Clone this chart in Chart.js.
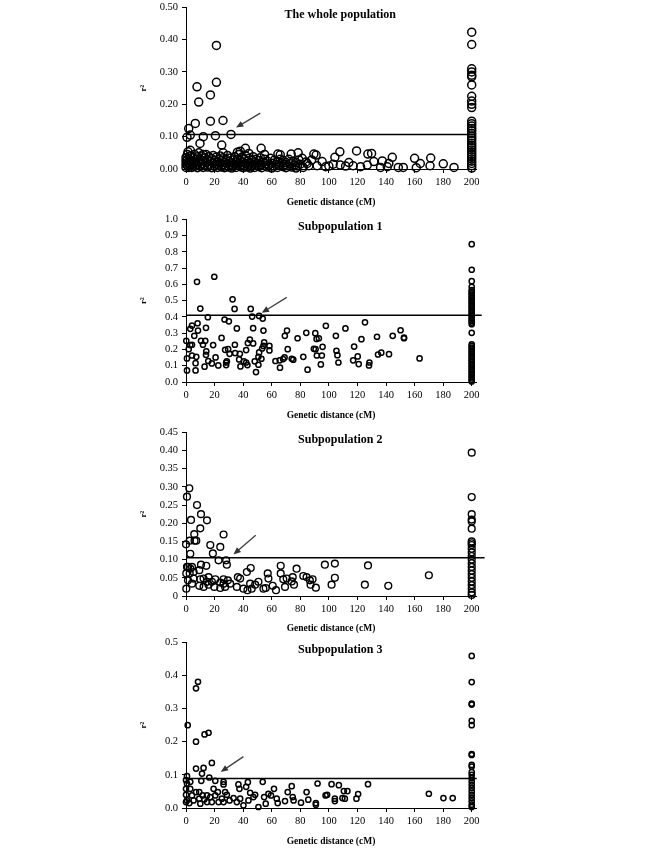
<!DOCTYPE html>
<html>
<head>
<meta charset="utf-8">
<script src="https://cdn.jsdelivr.net/npm/chart.js@4.4.1/dist/chart.umd.min.js"></script>
<style>
  body { margin: 0; background: #fff; }
  canvas { position: absolute; left: 0; }
</style>
</head>
<body>
<canvas id="whole" width="649" height="211" style="top:-3px"></canvas>
<canvas id="sub1" width="649" height="212" style="top:209px"></canvas>
<canvas id="sub2" width="649" height="212" style="top:422px"></canvas>
<canvas id="sub3" width="649" height="215" style="top:632px"></canvas>
<script>
// distance ticks shared by every panel
const xTicks = [0, 20, 40, 60, 80, 100, 120, 140, 160, 180, 200];
const xLabels = ["0", "20", "40", "60", "80", "100", "120", "140", "160", "180", "200"];
const unlinkedX = 200;

// ---- the whole population ----
const wholeTitle = "The whole population";
const wholeYTicks = [0, 0.1, 0.2, 0.3, 0.4, 0.5];
const wholeYLabels = ["0.00", "0.10", "0.20", "0.30", "0.40", "0.50"];
const wholeThreshold = 0.107;
const wholeArrow = [[52, 0.173], [35, 0.128]];
const wholePoints = [
  [21.3, 0.382], [7.7, 0.254], [21.3, 0.268], [17.1, 0.229], [8.9, 0.207],
  [6.5, 0.141], [17.1, 0.148], [25.9, 0.15], [1.9, 0.125], [3, 0.105],
  [0.7, 0.098], [12.1, 0.1], [20.6, 0.103], [31.5, 0.107], [9.8, 0.079],
  [25, 0.074], [1.4, 0.053], [3, 0.058], [41.6, 0.064], [52.6, 0.064],
  [64.3, 0.046], [73.6, 0.046], [78.5, 0.05], [89.5, 0.046], [91.1, 0.043],
  [107.7, 0.053], [104.2, 0.036], [119.4, 0.056], [127.3, 0.046], [129.9, 0.048],
  [137.4, 0.025], [144.4, 0.036], [160, 0.033], [171.3, 0.034], [180.1, 0.016],
  [187.6, 0.005], [170.8, 0.01], [152.1, 0.005], [148.6, 0.005], [136.2, 0.005],
  [164, 0.017], [161.2, 0.004], [126.9, 0.012], [122.2, 0.007], [108, 0.012],
  [97.7, 0.007], [91.8, 0.01], [84.8, 0.017], [81.3, 0.033], [142, 0.017],
  [140.9, 0.007], [131.5, 0.023], [117, 0.01], [111.7, 0.009], [114, 0.02],
  [103, 0.015], [100, 0.009], [95.3, 0.023], [36, 0.052], [38, 0.055],
  [26, 0.05], [44, 0.048], [55, 0.045], [66, 0.044], [12, 0.045],
  [0, 0.005], [0, 0.015], [0, 0.025], [0, 0.035], [1, 0.01], [1, 0.02], [1, 0.03], [1, 0.045],
  [2, 0.005], [2, 0.018], [3, 0.012], [3, 0.028], [3, 0.04], [4, 0.005], [4, 0.022],
  [5, 0.015], [5, 0.035], [6, 0.008], [6, 0.025], [6, 0.045], [7, 0.018], [7, 0.03],
  [8, 0.004], [8, 0.012], [8, 0.038], [9, 0.022], [9, 0.05], [10, 0.008], [10, 0.03],
  [11, 0.016], [11, 0.04], [12, 0.005], [12, 0.025], [13, 0.012], [13, 0.034],
  [14, 0.02], [14, 0.045], [15, 0.006], [15, 0.028], [16, 0.015], [16, 0.038],
  [17, 0.01], [17, 0.024], [18, 0.004], [18, 0.032], [19, 0.018], [19, 0.042],
  [20, 0.008], [20, 0.026], [21, 0.015], [21, 0.036], [22, 0.005], [22, 0.022],
  [23, 0.012], [23, 0.03], [24, 0.018], [24, 0.04], [25, 0.006], [25, 0.027],
  [26, 0.014], [26, 0.035], [27, 0.004], [27, 0.02], [28, 0.01], [28, 0.03],
  [29, 0.016], [29, 0.042], [30, 0.006], [30, 0.024], [31, 0.012], [31, 0.034],
  [32, 0.003], [32, 0.02], [33, 0.009], [33, 0.028], [34, 0.015], [34, 0.038],
  [35, 0.005], [35, 0.022], [36, 0.012], [36, 0.03], [37, 0.018], [37, 0.045],
  [38, 0.007], [38, 0.026], [39, 0.014], [39, 0.036], [40, 0.004], [40, 0.02],
  [41, 0.01], [41, 0.03], [42, 0.016], [42, 0.04], [43, 0.006], [43, 0.024],
  [44, 0.012], [44, 0.033], [45, 0.003], [45, 0.018], [46, 0.009], [46, 0.028],
  [47, 0.015], [47, 0.038], [48, 0.005], [48, 0.022], [49, 0.012], [49, 0.03],
  [50, 0.018], [51, 0.007], [51, 0.026], [52, 0.014], [52, 0.035], [53, 0.004],
  [54, 0.02], [55, 0.01], [55, 0.03], [56, 0.016], [57, 0.006], [57, 0.024],
  [58, 0.012], [59, 0.033], [60, 0.003], [60, 0.018], [61, 0.009], [62, 0.028],
  [63, 0.015], [64, 0.005], [64, 0.022], [65, 0.012], [66, 0.03], [67, 0.018],
  [68, 0.007], [68, 0.026], [69, 0.014], [70, 0.004], [70, 0.02], [71, 0.01],
  [72, 0.03], [73, 0.016], [74, 0.006], [75, 0.024], [76, 0.012], [77, 0.003],
  [77, 0.02], [78, 0.009], [79, 0.028], [80, 0.015], [82, 0.005], [84, 0.022],
  [86, 0.01], [88, 0.028]
];
const wholeAt200 = [0.423, 0.385, 0.31, 0.3, 0.29, 0.285, 0.26, 0.225, 0.21, 0.2, 0.19,
  0.148, 0.14, 0.133, 0.125, 0.118, 0.11, 0.102, 0.095, 0.088, 0.08, 0.073, 0.066,
  0.059, 0.052, 0.045, 0.038, 0.031, 0.024, 0.017, 0.01, 0.003];

// ---- subpopulation 1 ----
const sub1Title = "Subpopulation 1";
const sub1YTicks = [0, 0.1, 0.2, 0.3, 0.4, 0.5, 0.6, 0.7, 0.8, 0.9, 1.0];
const sub1YLabels = ["0.0", "0.1", "0.2", "0.3", "0.4", "0.5", "0.6", "0.7", "0.8", "0.9", "1.0"];
const sub1Threshold = 0.41;
const sub1Arrow = [[70.5, 0.52], [53, 0.425]];
const sub1Points = [
  [0.7, 0.071], [0.7, 0.145], [0.2, 0.253], [7.7, 0.616], [19.8, 0.647], [32.6, 0.508],
  [34, 0.449], [10, 0.451], [45.3, 0.449], [15.3, 0.398], [46.3, 0.402], [51.2, 0.406],
  [53.7, 0.39], [27, 0.384], [30, 0.373], [8.1, 0.361], [4.2, 0.347], [3, 0.327],
  [14, 0.333], [35.6, 0.329], [47, 0.331], [8.4, 0.316], [54.2, 0.316], [5.8, 0.284],
  [24.9, 0.271], [10.5, 0.253], [13.5, 0.253], [44.7, 0.261], [43.3, 0.239], [47, 0.237],
  [54.7, 0.243], [3, 0.227], [4.2, 0.229], [11.9, 0.229], [19, 0.227], [34.2, 0.229],
  [54.2, 0.222], [58.4, 0.222], [1.9, 0.202], [29.5, 0.202], [27.4, 0.198], [14.2, 0.188],
  [42.1, 0.196], [53.3, 0.206], [58.4, 0.194], [51.2, 0.182], [30.5, 0.173], [34.4, 0.178],
  [37.7, 0.173], [50.7, 0.155], [14, 0.167], [4.2, 0.163], [7.2, 0.155], [20.7, 0.151],
  [52.8, 0.143], [37.2, 0.139], [15.6, 0.129], [28.6, 0.127], [40.5, 0.127], [42.1, 0.12],
  [6.7, 0.116], [18.1, 0.114], [22.6, 0.102], [28.1, 0.104], [43, 0.104], [38.1, 0.096],
  [13, 0.094], [28.1, 0.12], [6.7, 0.071], [49, 0.061], [50.7, 0.106], [48.1, 0.127],
  [65.8, 0.088], [85.1, 0.076], [65.6, 0.133], [62.6, 0.129], [71.2, 0.202], [69, 0.151],
  [68, 0.141], [69.2, 0.284], [70.7, 0.316], [78.1, 0.269], [84.2, 0.302], [74, 0.143],
  [75.1, 0.137], [82.1, 0.155], [90.5, 0.3], [91.4, 0.265], [93, 0.269], [90.7, 0.202],
  [89.5, 0.204], [91.6, 0.163], [95.6, 0.216], [95.1, 0.163], [94.4, 0.108], [97.9, 0.345],
  [104.9, 0.284], [105.3, 0.192], [106, 0.165], [106.7, 0.12], [111.6, 0.329], [117.7, 0.218],
  [120.2, 0.157], [120.9, 0.11], [122.8, 0.263], [117, 0.133], [125.3, 0.367], [133.7, 0.278],
  [134.4, 0.169], [136.7, 0.18], [128.4, 0.12], [128.1, 0.102], [142.1, 0.171], [144.7, 0.284],
  [150.2, 0.318], [152.6, 0.273], [152.6, 0.269], [163.5, 0.145]
];
const sub1At200 = [0.847, 0.69, 0.62, 0.585, 0.565, 0.555, 0.545, 0.535, 0.525, 0.515,
  0.505, 0.495, 0.485, 0.475, 0.465, 0.455, 0.445, 0.435, 0.425, 0.415, 0.405, 0.395,
  0.385, 0.375, 0.365, 0.355, 0.302, 0.232, 0.222, 0.212, 0.202, 0.192, 0.182, 0.172,
  0.162, 0.152, 0.142, 0.132, 0.122, 0.112, 0.102, 0.092, 0.082, 0.072, 0.062, 0.052,
  0.042, 0.032, 0.022, 0.012, 0.003];

// ---- subpopulation 2 ----
const sub2Title = "Subpopulation 2";
const sub2YTicks = [0, 0.05, 0.1, 0.15, 0.2, 0.25, 0.3, 0.35, 0.4, 0.45];
const sub2YLabels = ["0", "0.05", "0.10", "0.15", "0.20", "0.25", "0.30", "0.35", "0.40", "0.45"];
const sub2Threshold = 0.105;
const sub2Arrow = [[48.8, 0.167], [33.2, 0.114]];
const sub2Points = [
  [2.3, 0.296], [0.7, 0.273], [3.5, 0.209], [7.7, 0.25], [10.5, 0.225], [14.7, 0.208],
  [10, 0.186], [5.8, 0.17], [6, 0.152], [2.6, 0.152], [7.2, 0.152], [0, 0.142],
  [26.3, 0.169], [17, 0.14], [24, 0.135], [18.8, 0.117], [3, 0.116], [22.8, 0.098],
  [28.1, 0.098], [28.6, 0.086], [10.5, 0.086], [0.7, 0.08], [3, 0.075], [9.3, 0.071],
  [14.2, 0.083], [0.2, 0.062], [1.4, 0.043], [0.2, 0.02], [4.2, 0.034], [5.3, 0.048],
  [10, 0.046], [12.3, 0.048], [15.8, 0.052], [18.1, 0.039], [20.5, 0.046], [24, 0.037],
  [26.3, 0.046], [29.3, 0.043], [30.9, 0.034], [9.3, 0.028], [15.8, 0.031], [36.3, 0.052],
  [35.6, 0.025], [40.2, 0.02], [42.6, 0.066], [45.3, 0.077], [43, 0.016], [44.9, 0.034],
  [46, 0.02], [48.4, 0.031], [50.7, 0.039], [54.2, 0.02], [55.8, 0.022], [57.2, 0.062],
  [57.7, 0.048], [60.7, 0.028], [63, 0.016], [66.3, 0.083], [66.3, 0.062], [68.1, 0.046],
  [69.3, 0.025], [70.5, 0.048], [74, 0.04], [74.7, 0.052], [75.6, 0.031], [77.4, 0.075],
  [82.1, 0.055], [84.4, 0.052], [86.7, 0.043], [87.2, 0.031], [88.6, 0.046], [90.9, 0.023],
  [97.2, 0.086], [104.2, 0.089], [104.2, 0.05], [101.9, 0.031], [127.4, 0.084], [125.2, 0.031],
  [141.6, 0.028], [170, 0.057], [26.3, 0.034], [2.6, 0.062], [5.3, 0.066], [4.2, 0.08],
  [14.7, 0.039], [12.3, 0.025], [19.8, 0.025], [24, 0.022], [27.4, 0.025], [1.4, 0.08],
  [37.9, 0.048]
];
const sub2At200 = [0.394, 0.272, 0.225, 0.21, 0.205, 0.185, 0.15, 0.145, 0.14, 0.13,
  0.12, 0.11, 0.1, 0.09, 0.08, 0.07, 0.06, 0.05, 0.04, 0.03, 0.02, 0.01, 0.003];

// ---- subpopulation 3 ----
const sub3Title = "Subpopulation 3";
const sub3YTicks = [0, 0.1, 0.2, 0.3, 0.4, 0.5];
const sub3YLabels = ["0.0", "0.1", "0.2", "0.3", "0.4", "0.5"];
const sub3Threshold = 0.089;
const sub3Arrow = [[40.2, 0.155], [24.3, 0.109]];
const sub3Points = [
  [7, 0.361], [8.4, 0.381], [1.2, 0.25], [7, 0.2], [13, 0.222], [15.8, 0.227],
  [18.1, 0.136], [7, 0.119], [12.3, 0.121], [11.2, 0.104], [16.3, 0.092], [20.5, 0.082],
  [10.7, 0.082], [0.7, 0.096], [0, 0.084], [3, 0.079], [0.7, 0.074], [3, 0.058],
  [0, 0.04], [0.7, 0.023], [2.3, 0.015], [5.3, 0.023], [7, 0.048], [9.3, 0.048],
  [9.3, 0.028], [11.6, 0.038], [12.8, 0.026], [14.7, 0.038], [17, 0.033], [19.3, 0.058],
  [20.5, 0.038], [22.3, 0.048], [25.1, 0.028], [26.3, 0.079], [26.3, 0.071], [27.4, 0.048],
  [28.6, 0.04], [30.5, 0.023], [33.3, 0.03], [36.7, 0.071], [37.4, 0.058], [37.9, 0.028],
  [40.2, 0.008], [42.1, 0.064], [43.3, 0.078], [43.7, 0.023], [44.9, 0.046], [47.2, 0.033],
  [48.4, 0.04], [50.7, 0.003], [53.7, 0.079], [54.7, 0.033], [55.8, 0.013], [57.7, 0.043],
  [59.5, 0.038], [61.6, 0.058], [63.5, 0.028], [64.2, 0.015], [69.3, 0.021], [71.2, 0.048],
  [74, 0.066], [74.7, 0.033], [75.3, 0.023], [80.5, 0.016], [84.4, 0.048], [85.6, 0.025],
  [90.9, 0.015], [90.9, 0.01], [92.1, 0.074], [97.7, 0.038], [98.8, 0.04], [101.9, 0.072],
  [104.2, 0.028], [104.2, 0.021], [107, 0.069], [109.5, 0.03], [111.2, 0.028], [110.5, 0.051],
  [113, 0.051], [119.3, 0.028], [120.5, 0.042], [127.4, 0.072], [170, 0.043], [180.2, 0.03],
  [186.7, 0.03], [0, 0.058], [0, 0.018], [4.2, 0.038], [10, 0.013], [14.7, 0.018],
  [18.1, 0.018], [22.8, 0.018], [26.3, 0.018], [35.6, 0.018]
];
const sub3At200 = [0.459, 0.38, 0.315, 0.312, 0.263, 0.25, 0.163, 0.16, 0.13, 0.125,
  0.108, 0.1, 0.09, 0.08, 0.07, 0.06, 0.05, 0.04, 0.03, 0.02, 0.01, 0.003];

const FONT = "'Liberation Serif', 'Times New Roman', serif";

const panelText = {
  id: "panelText",
  afterDatasetsDraw(chart, args, opts) {
    const { ctx, chartArea, scales } = chart;
    ctx.save();
    // title inside plot area
    ctx.font = "bold 12px " + FONT;
    ctx.fillStyle = "#000";
    ctx.textAlign = "center";
    ctx.textBaseline = "middle";
    ctx.fillText(opts.title, scales.x.getPixelForValue(108), chartArea.top + 7.5);
    // arrow pointing at the threshold line
    const x1 = scales.x.getPixelForValue(opts.arrow[0][0]);
    const y1 = scales.y.getPixelForValue(opts.arrow[0][1]);
    const x2 = scales.x.getPixelForValue(opts.arrow[1][0]);
    const y2 = scales.y.getPixelForValue(opts.arrow[1][1]);
    const ang = Math.atan2(y2 - y1, x2 - x1);
    const head = 8;
    ctx.strokeStyle = "#444";
    ctx.fillStyle = "#333";
    ctx.lineWidth = 1.4;
    ctx.beginPath();
    ctx.moveTo(x1, y1);
    ctx.lineTo(x2 - Math.cos(ang) * head * 0.8, y2 - Math.sin(ang) * head * 0.8);
    ctx.stroke();
    ctx.beginPath();
    ctx.moveTo(x2, y2);
    ctx.lineTo(x2 - head * Math.cos(ang - 0.4), y2 - head * Math.sin(ang - 0.4));
    ctx.lineTo(x2 - head * Math.cos(ang + 0.4), y2 - head * Math.sin(ang + 0.4));
    ctx.closePath();
    ctx.fill();
    ctx.restore();
  }
};

function makePanel(id, p) {
  const pts = p.points.map(d => ({ x: d[0], y: d[1] }));
  const col = p.at200.map(v => ({ x: unlinkedX, y: v }));
  new Chart(document.getElementById(id), {
    type: "scatter",
    data: {
      datasets: [
        {
          type: "line",
          data: [{ x: 0, y: p.threshold }, { x: p.lineEnd, y: p.threshold }],
          borderColor: "#000",
          borderWidth: 1.5,
          pointRadius: 0,
          clip: false
        },
        {
          data: pts,
          borderColor: "#000",
          backgroundColor: "rgba(0,0,0,0)",
          pointRadius: p.radius,
          borderWidth: p.border,
          clip: false
        },
        {
          data: col,
          borderColor: "#000",
          backgroundColor: "rgba(0,0,0,0)",
          pointRadius: p.radius,
          borderWidth: p.border,
          clip: false
        }
      ]
    },
    options: {
      responsive: false,
      animation: false,
      layout: { padding: { left: 138, right: 173, top: 7, bottom: 0 } },
      plugins: {
        legend: { display: false },
        tooltip: { enabled: false },
        panelText: { title: p.title, arrow: p.arrow }
      },
      scales: {
        x: {
          type: "linear",
          min: 0,
          max: 203,
          afterBuildTicks: s => { s.ticks = xTicks.map(v => ({ value: v })); },
          afterFit: s => { s.height = p.xHeight; },
          ticks: {
            callback: (v, i) => xLabels[i],
            font: { family: FONT, size: 10.5 },
            color: "#000",
            padding: 3,
            maxRotation: 0
          },
          grid: { drawOnChartArea: false, drawTicks: true, tickLength: 4, color: "#000" },
          border: { color: "#000", width: 1 },
          title: {
            display: true,
            text: "Genetic distance (cM)",
            font: { family: FONT, size: 9.5, weight: "bold" },
            color: "#000",
            padding: 0
          }
        },
        y: {
          min: 0,
          max: p.yTicks[p.yTicks.length - 1],
          afterBuildTicks: s => { s.ticks = p.yTicks.map(v => ({ value: v })); },
          afterFit: s => { s.width = 186 - 138; },
          ticks: {
            callback: (v, i) => p.yLabels[i],
            font: { family: FONT, size: 10.5 },
            color: "#000",
            padding: 4
          },
          grid: { drawOnChartArea: false, drawTicks: true, tickLength: 4, color: "#000" },
          border: { color: "#000", width: 1 },
          title: {
            display: true,
            text: "r²",
            font: { family: FONT, size: 9, weight: "bold" },
            color: "#000",
            padding: 0
          }
        }
      }
    },
    plugins: [panelText]
  });
}

makePanel("whole", {
  title: wholeTitle, points: wholePoints, at200: wholeAt200, threshold: wholeThreshold,
  arrow: wholeArrow, yTicks: wholeYTicks, yLabels: wholeYLabels,
  radius: 4, border: 1.5, lineEnd: 203, xHeight: 39
});
makePanel("sub1", {
  title: sub1Title, points: sub1Points, at200: sub1At200, threshold: sub1Threshold,
  arrow: sub1Arrow, yTicks: sub1YTicks, yLabels: sub1YLabels,
  radius: 2.6, border: 1.5, lineEnd: 207, xHeight: 39
});
makePanel("sub2", {
  title: sub2Title, points: sub2Points, at200: sub2At200, threshold: sub2Threshold,
  arrow: sub2Arrow, yTicks: sub2YTicks, yLabels: sub2YLabels,
  radius: 3.4, border: 1.4, lineEnd: 209, xHeight: 38
});
makePanel("sub3", {
  title: sub3Title, points: sub3Points, at200: sub3At200, threshold: sub3Threshold,
  arrow: sub3Arrow, yTicks: sub3YTicks, yLabels: sub3YLabels,
  radius: 2.6, border: 1.5, lineEnd: 203.5, xHeight: 39
});
</script>
</body>
</html>
